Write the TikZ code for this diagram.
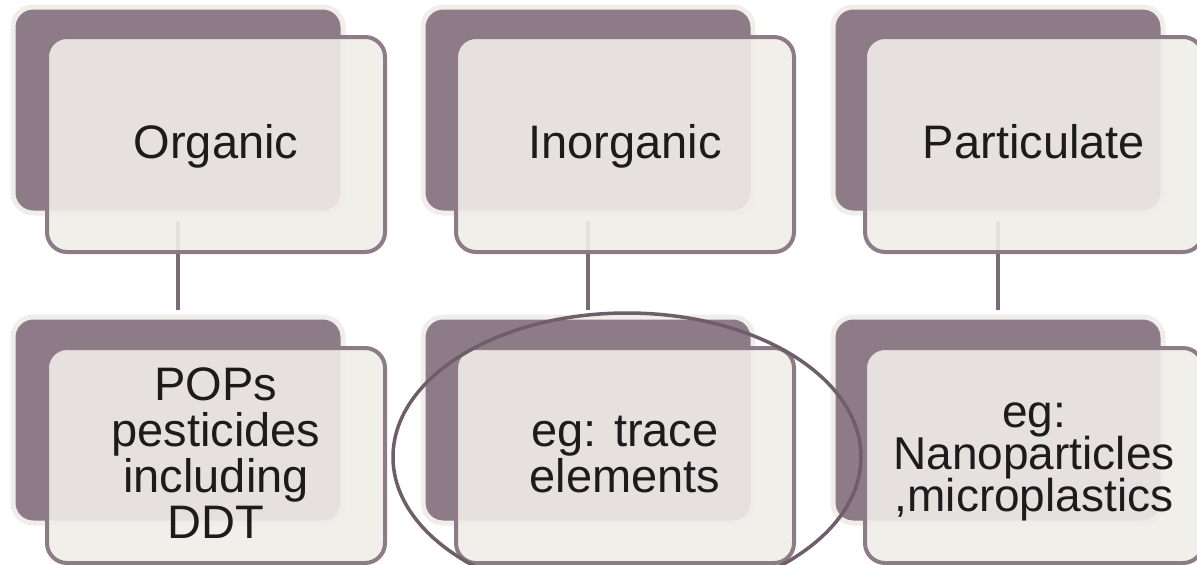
\documentclass[tikz,border=0pt]{standalone}
\usepackage{fontspec}
\setmainfont{Liberation Sans}
\usetikzlibrary{shapes.geometric}
\definecolor{backfill}{RGB}{142,123,136}
\definecolor{backline}{RGB}{241,238,233}
\definecolor{frontfill}{RGB}{240,237,232}
\definecolor{frontline}{RGB}{142,123,136}
\definecolor{conn}{RGB}{122,106,117}
\definecolor{ovalc}{RGB}{110,94,106}
\definecolor{txt}{RGB}{28,28,28}
\newcommand\txtline[1]{\rule[-5pt]{0pt}{37pt}\smash{#1}}
\begin{document}
\begin{tikzpicture}[x=1pt,y=-1pt,
  backbox/.style={draw=backline,line width=5pt,fill=backfill,rounded corners=20pt,
    minimum width=330pt,minimum height=206pt,inner sep=0pt},
  frontbox/.style={draw=frontline,line width=4pt,fill=frontfill,fill opacity=0.9,text opacity=1,
    rounded corners=20pt,minimum width=338pt,minimum height=215pt,inner sep=0pt,
    text=txt,align=center,font=\fontsize{47pt}{46pt}\selectfont},
  tight/.style={font=\fontsize{46pt}{42pt}\selectfont},
  link/.style={draw=conn,line width=3.5pt},
  oval/.style={draw=ovalc,line width=3.5pt}]
\useasboundingbox (0,0) rectangle (1197,565);
\clip (0,0) rectangle (1197,565);
% back boxes
\node[backbox] (b1) at (178,110) {};
\node[backbox] (b2) at (588,110) {};
\node[backbox] (b3) at (998,110) {};
\node[backbox] (b4) at (178,420) {};
\node[backbox] (b5) at (588,420) {};
\node[backbox] (b6) at (998,420) {};
% connectors
\draw[link] ([yshift=-5pt]b1.south) -- ([yshift=5pt]b4.north);
\draw[link] ([yshift=-5pt]b2.south) -- ([yshift=5pt]b5.north);
\draw[link] ([yshift=-5pt]b3.south) -- ([yshift=5pt]b6.north);
% front boxes
\node[frontbox] (f1) at (216,144.5) {\txtline{Organic}};
\node[frontbox] (f2) at (625,144.5) {\txtline{Inorganic}};
\node[frontbox] (f3) at (1034,144.5) {\txtline{Particulate}};
\node[frontbox] (f4) at (216,455.5) {\txtline{POPs}\\\txtline{pesticides}\\\txtline{including}\\\txtline{DDT}};
\node[frontbox] (f5) at (625,455.5) {\txtline{eg: trace}\\\txtline{elements}};
\node[frontbox,tight] (f6) at (1034,455.5) {\txtline{eg:}\\\txtline{Nanoparticles}\\\txtline{,microplastics}};
% highlight ellipse
\node[oval,ellipse,minimum width=468pt,minimum height=288pt,inner sep=0pt] (ov) at (627,457) {};
\end{tikzpicture}
\end{document}
